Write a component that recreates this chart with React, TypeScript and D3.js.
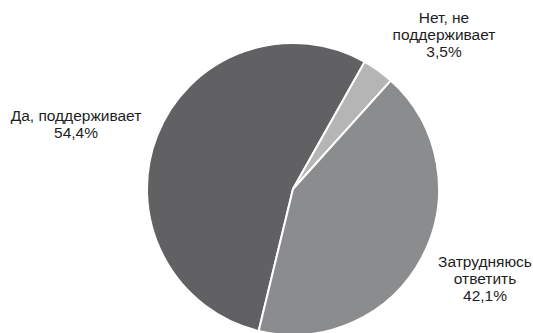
import React from "react";
import * as d3 from "d3";

const categories = ["Да, поддерживает", "Нет, не поддерживает", "Затрудняюсь ответить"];
const values = [54.4, 3.5, 42.1];
const labelLines = [
  ["Да, поддерживает", "54,4%"],
  ["Нет, не", "поддерживает", "3,5%"],
  ["Затрудняюсь", "ответить", "42,1%"],
];
const colors = ["#616163", "#b5b5b6", "#8b8c8e"];

const W = 533, H = 333;
const cx = 293, cy = 189, R = 146;
const labelPos = [
  { x: 76, y: 121 },
  { x: 444, y: 23 },
  { x: 485, y: 267 },
];

export default function App() {
  const start = (-166.4 * Math.PI) / 180;
  const pie = d3.pie<number>().sort(null).startAngle(start).endAngle(start + 2 * Math.PI);
  const arcs = pie(values);
  const arc = d3.arc<d3.PieArcDatum<number>>().innerRadius(0).outerRadius(R);
  return (
    <svg width={W} height={H} style={{ position: "absolute", left: 0, top: 0, background: "#fff" }}>
      <g transform={`translate(${cx},${cy})`}>
        {arcs.map((a, i) => (
          <path key={categories[i]} d={arc(a) || ""} fill={colors[i]} stroke="#fff" strokeWidth={2} strokeLinejoin="round" />
        ))}
      </g>
      {labelLines.map((lines, i) => (
        <text key={i} x={labelPos[i].x} y={labelPos[i].y} textAnchor="middle" fontFamily="Liberation Sans, Arial, sans-serif" fontSize={15.5} fill="#1e1e1e">
          {lines.map((l, j) => (
            <tspan key={j} x={labelPos[i].x} dy={j === 0 ? 0 : 17}>{l}</tspan>
          ))}
        </text>
      ))}
    </svg>
  );
}
